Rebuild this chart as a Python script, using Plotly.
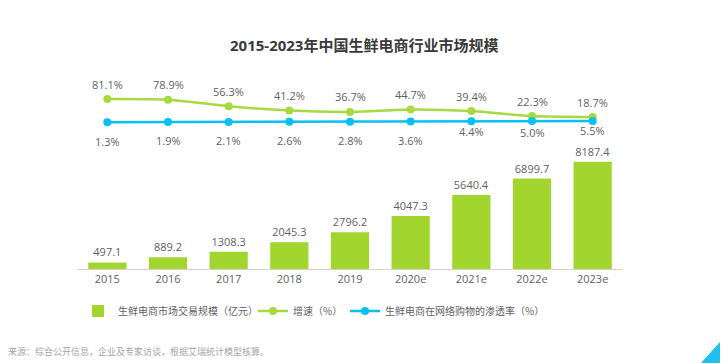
import plotly.graph_objects as go

# ---- data ----
years = ["2015", "2016", "2017", "2018", "2019", "2020e", "2021e", "2022e", "2023e"]
market_size = [497.1, 889.2, 1308.3, 2045.3, 2796.2, 4047.3, 5640.4, 6899.7, 8187.4]
growth_rate = [81.1, 78.9, 56.3, 41.2, 36.7, 44.7, 39.4, 22.3, 18.7]
penetration = [1.3, 1.9, 2.1, 2.6, 2.8, 3.6, 4.4, 5.0, 5.5]

title_text = "2015-2023年中国生鲜电商行业市场规模"
source_text = "来源：综合公开信息，企业及专家访谈，根据艾瑞统计模型核算。"
legend_names = ["生鲜电商市场交易规模（亿元）", "增速（%）", "生鲜电商在网络购物的渗透率（%）"]

# ---- style ----
OFF = 8  # page body margin
W, H = 728 - OFF, 363 - OFF
PL, PR, PT, PB = 77, 623, 40, 269  # plot area in screenshot pixels
L, R, T, B = PL - OFF, (728 - PR), PT - OFF, (363 - PB)
BAR_C = "#a2d62e"
GROW_C = "#a9d940"
PEN_C = "#08c0f2"
TXT_C = "#5f5f5f"
FONT = "Open Sans, Noto Sans CJK SC, sans-serif"
CJK = "Noto Sans CJK SC, sans-serif"

pw = PR - PL
ph = PB - PT


def px_x(p):
    return (p - PL) / pw


def px_y(p):
    return 1 - (p - PT) / ph


fig = go.Figure()
fig.add_trace(go.Bar(
    x=years, y=market_size, name=legend_names[0],
    marker=dict(color=BAR_C, line=dict(width=0)),
    text=[f"{v:.1f}" for v in market_size], textposition="outside",
    textfont=dict(size=11, color=TXT_C, family=FONT), cliponaxis=False,
    yaxis="y", legend="legend",
))
fig.add_trace(go.Scatter(
    x=years, y=growth_rate, name=legend_names[1], mode="lines+markers",
    line=dict(color=GROW_C, width=2.5, shape="spline", smoothing=0.6),
    marker=dict(color=GROW_C, size=8), yaxis="y2", legend="legend2",
))
fig.add_trace(go.Scatter(
    x=years, y=penetration, name=legend_names[2], mode="lines+markers",
    line=dict(color=PEN_C, width=2.5),
    marker=dict(color=PEN_C, size=8), yaxis="y2", legend="legend3",
))

annotations = []
for i, g in enumerate(growth_rate):
    annotations.append(dict(x=i, y=g, xref="x", yref="y2", text=f"{g:.1f}%",
                            showarrow=False, yshift=15,
                            font=dict(size=11, color=TXT_C, family=FONT)))
pen_shift = [-19, -19, -19, -19, -19, -19, -10, -11, -10]
for i, p in enumerate(penetration):
    annotations.append(dict(x=i, y=p, xref="x", yref="y2", text=f"{p:.1f}%",
                            showarrow=False, yshift=pen_shift[i],
                            font=dict(size=11, color=TXT_C, family=FONT)))

annotations.append(dict(x=px_x(364), y=px_y(45), xref="paper", yref="paper",
                        xanchor="center", yanchor="middle",
                        text=f"<b>{title_text}</b>", showarrow=False,
                        font=dict(size=15, color="#3a3a3a", family=FONT)))
annotations.append(dict(x=px_x(6), y=px_y(351), xref="paper", yref="paper",
                        xanchor="left", yanchor="middle", text=source_text, showarrow=False,
                        font=dict(size=9, color="#a6a6a6", family=CJK)))

shapes = [
    dict(type="path", xref="paper", yref="paper",
         path=f"M {px_x(701)} {px_y(363)} L {px_x(728)} {px_y(363)} L {px_x(728)} {px_y(333)} Z",
         fillcolor="#1fc0f0", line=dict(width=0), layer="above"),
    dict(type="path", xref="paper", yref="paper",
         path=f"M {px_x(718)} {px_y(363)} L {px_x(728)} {px_y(363)} L {px_x(728)} {px_y(349)} Z",
         fillcolor="#6ccd2e", line=dict(width=0), layer="above"),
]

leg_common = dict(orientation="h", xanchor="left", yanchor="middle",
                  font=dict(size=10, color=TXT_C, family=CJK),
                  itemwidth=30, bgcolor="rgba(0,0,0,0)", borderwidth=0)

fig.update_layout(
    width=W, height=H,
    margin=dict(l=L, r=R, t=T, b=B, autoexpand=False),
    paper_bgcolor="white", plot_bgcolor="white",
    bargap=0.37,
    font=dict(family=FONT, color=TXT_C),
    xaxis=dict(type="category", range=[-0.5, len(years) - 0.5], showgrid=False,
               showline=True, linecolor="#d4d4d4",
               linewidth=1, ticks="", tickfont=dict(size=11, color=TXT_C, family=FONT),
               zeroline=False),
    yaxis=dict(range=[0, 17480], visible=False, showgrid=False, zeroline=False),
    yaxis2=dict(range=[-505, 284.5], overlaying="y", visible=False, showgrid=False,
                zeroline=False),
    legend=dict(x=px_x(78), y=px_y(311), **leg_common),
    legend2=dict(x=px_x(253), y=px_y(311), **leg_common),
    legend3=dict(x=px_x(345), y=px_y(311), **leg_common),
    annotations=annotations,
    shapes=shapes,
    showlegend=True,
)

fig.write_html("out.html")
